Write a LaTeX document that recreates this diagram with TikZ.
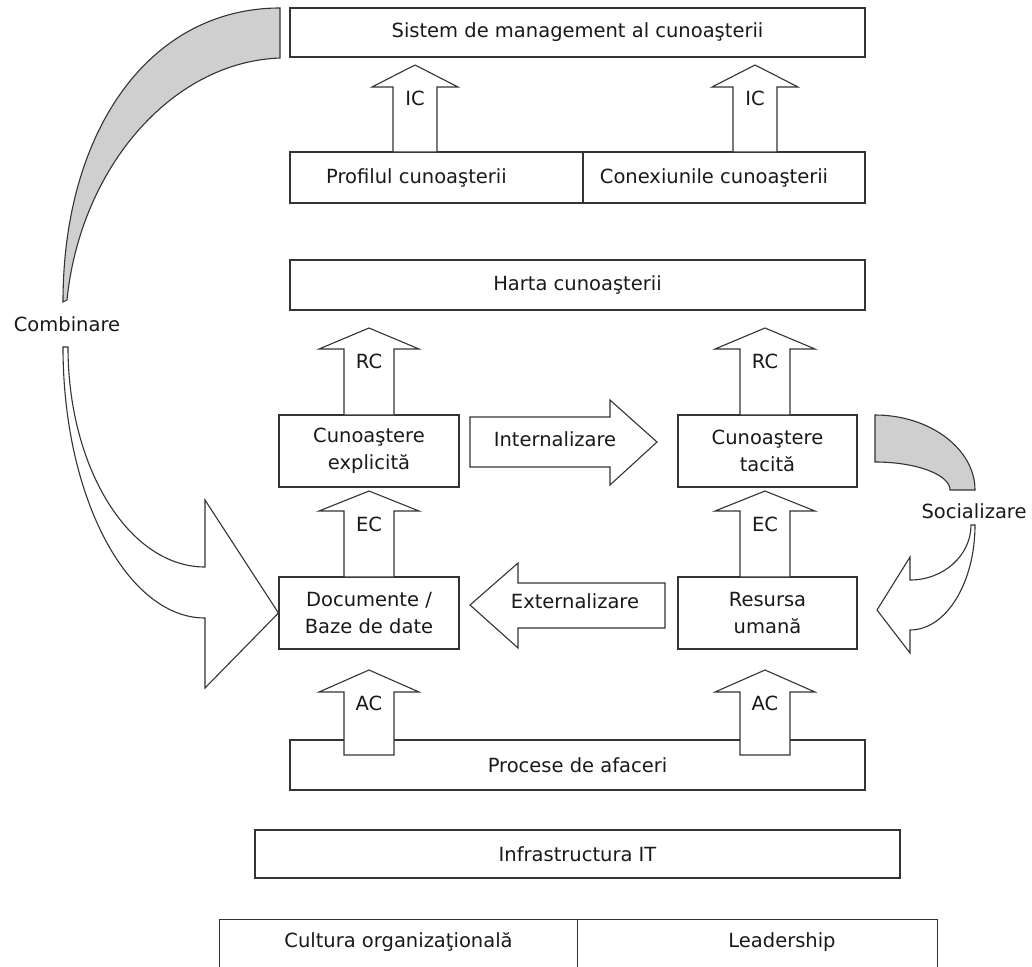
\documentclass[tikz,border=0pt]{standalone}
\usepackage{fontspec}
\setmainfont{DejaVu Sans}
\begin{document}
\begin{tikzpicture}[x=1pt,y=-1pt,
  every node/.style={font=\fontsize{19.5}{27}\selectfont, text=black!90},
  box/.style={draw=black!80, line width=1.1pt, rectangle, inner sep=0pt, align=center},
  frame/.style={draw=black!80, line width=1.1pt},
  blk/.style={draw=black!80, line width=1.1pt, fill=white, line join=miter},
  band/.style={draw=black!80, line width=1.1pt, fill=black!19},
  lbl/.style={inner sep=0pt}]
\useasboundingbox (0,0) rectangle (1032,966);
\clip (0,0) rectangle (1032,966);

% vertical block arrow: centre x, tip y, bottom y, shaft half width, head half width, head height, label
\newcommand\vblock[7]{%
  \draw[blk] (#1-#4,#3) -- (#1-#4,#2+#6) -- (#1-#5,#2+#6) -- (#1,#2)
    -- (#1+#5,#2+#6) -- (#1+#4,#2+#6) -- (#1+#4,#3) -- cycle;
  \node[lbl] at (#1,#2+33) {#7};}

% top level
\node[box, minimum width=575, minimum height=49] (skm) at (577.5,32.5) {Sistem de management al cunoaşterii};
\node[box, minimum width=293, minimum height=51] (pf) at (436.5,177.5)
  {\hspace*{-40pt}Profilul cunoaşterii};
\node[box, minimum width=282, minimum height=51] (cx) at (724,177.5)
  {\hspace*{-20pt}Conexiunile cunoaşterii};
\node[box, minimum width=575, minimum height=50] (hc) at (577.5,285) {Harta cunoaşterii};

% knowledge boxes
\node[box, minimum width=180, minimum height=72] (ce) at (369,451) {Cunoaştere\\explicită};
\node[box, minimum width=179, minimum height=72] (ct) at (767.5,451) {Cunoaştere\\tacită};
\node[box, minimum width=180, minimum height=72] (db) at (369,613) {Documente /\\Baze de date};
\node[box, minimum width=179, minimum height=72] (ru) at (767.5,613) {Resursa\\umană};

% base layers
\node[box, minimum width=575, minimum height=50] (pa) at (577.5,765) {Procese de afaceri};
\node[box, minimum width=645, minimum height=48] (it) at (577.5,854) {Infrastructura IT};
\node[lbl, minimum width=357, minimum height=44] (cu) at (398.5,942) {Cultura organizaţională};
\node[lbl, minimum width=360, minimum height=44] (ld) at (757,942) {\hspace*{50pt}Leadership};
\draw[frame] (cu.west |- 0,980) -- (cu.north west) -- (ld.north east) -- (ld.east |- 0,980);
\draw[frame] (cu.north east) -- (cu.east |- 0,980);

% upward block arrows
\vblock{415}{65}{152}{22}{43}{22}{IC}
\vblock{755}{65}{152}{22}{43}{22}{IC}
\vblock{369}{328}{415}{25}{50}{21}{RC}
\vblock{765}{328}{415}{25}{50}{21}{RC}
\vblock{369}{491}{577}{25}{50}{20}{EC}
\vblock{765}{491}{577}{25}{50}{20}{EC}
\vblock{369}{670}{755}{25}{50}{22}{AC}
\vblock{765}{670}{755}{25}{50}{22}{AC}

% horizontal block arrows
\draw[blk] (470,417) -- (610,417) -- (610,400) -- (657,442) -- (610,485) -- (610,467) -- (470,467) -- cycle;
\node[lbl] (inl) at (555,439) {Internalizare};
\draw[blk] (665,583) -- (518,583) -- (518,563) -- (470,605) -- (518,648) -- (518,628) -- (665,628) -- cycle;
\node[lbl] (exl) at (575,601) {Externalizare};

% combination: grey band and curved arrow
\draw[band] (280,8) .. controls (150,8) and (63,130) .. (63,302)
  -- (67,300) .. controls (80,170) and (170,62) .. (280,58) -- cycle;
\node[lbl] (cmb) at (67,324) {Combinare};
\draw[blk] (63,347) .. controls (63,497) and (127,618) .. (205,618)
  -- (205,688) -- (db.west) -- (205,500) -- (205,567)
  .. controls (129,567) and (68,468) .. (68,347) -- cycle;

% socialisation: grey band and curved arrow
\draw[band] (875,415) .. controls (930,415) and (975,449) .. (975,490)
  -- (950,490) .. controls (950,474.5) and (916,462) .. (875,462) -- cycle;
\node[lbl] (soc) at (974,511) {Socializare};
\draw[blk] (975,525) .. controls (975,583) and (946,630) .. (910,630)
  -- (910,653) -- (877,610) -- (910,557) -- (910,580)
  .. controls (944,580) and (971,555) .. (971,525) -- cycle;
\end{tikzpicture}
\end{document}
